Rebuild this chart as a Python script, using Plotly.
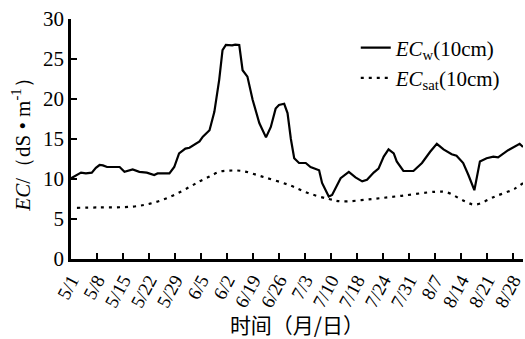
import plotly.graph_objects as go

# Days counted from 5/1
days_w = [0, 1.9, 2.7, 4.0, 5.6, 6.7, 7.7, 8.6, 9.7, 11.3, 13.1, 14.4, 15.5, 16.6, 18.4,
          20.4, 22.4, 23.3, 26.5, 27.8, 29.1, 30.8, 31.9, 33.2, 34.6, 35.5, 37.3, 38.6,
          39.9, 40.8, 41.7, 43.4, 44.2, 45.3, 46.2, 47.5, 48.9, 50.7, 52.5, 53.8, 55.1,
          56.0, 57.4, 58.3, 59.2, 60.1, 61.4, 63.2, 64.5, 66.8, 67.6, 69.4, 70.3, 72.6,
          74.8, 76.6, 78.4, 79.7, 81.5, 82.8, 84.2, 85.5, 86.9, 87.7, 89.5, 92.2, 94.5,
          96.7, 98.5, 100.3, 102.5, 103.8, 105.6, 107.0, 108.6, 110.1, 111.9, 113.7,
          115.0, 117.7, 120.8, 121.7]
ec_w = [10.1, 10.6, 10.8, 10.7, 10.8, 11.4, 11.75, 11.7, 11.5, 11.5, 11.5, 10.9, 11.1,
        11.2, 10.9, 10.8, 10.5, 10.7, 10.7, 11.5, 13.2, 13.8, 13.9, 14.3, 14.7, 15.3,
        16.1, 18.4, 22.4, 26.1, 26.75, 26.7, 26.8, 26.75, 23.6, 22.8, 19.9, 17.0, 15.2,
        16.5, 18.8, 19.25, 19.4, 18.25, 15.0, 12.6, 12.0, 12.0, 11.5, 11.1, 9.5, 7.8,
        8.0, 10.1, 10.9, 10.2, 9.7, 9.9, 10.8, 11.3, 12.8, 13.7, 13.2, 12.2, 11.0, 11.0,
        12.0, 13.4, 14.4, 13.7, 13.1, 12.9, 12.0, 10.5, 8.6, 12.2, 12.6, 12.8, 12.7,
        13.6, 14.4, 14.0]

days_sat = [1.6, 7.8, 16.6, 22.0, 27.3, 31.9, 34.6, 37.3, 39.9, 42.6, 46.1, 51.5, 58.7,
            64.1, 69.4, 72.9, 81.0, 89.0, 98.0, 101.1, 106.1, 108.8, 114.1, 119.5, 121.7]
ec_sat = [6.4, 6.45, 6.55, 7.0, 7.9, 9.0, 9.7, 10.3, 10.9, 11.05, 11.0, 10.3, 9.25,
          8.2, 7.5, 7.2, 7.5, 7.9, 8.4, 8.35, 7.2, 6.8, 7.8, 8.8, 9.5]

tick_days = [0, 7, 14, 21, 28, 35, 42, 49, 56, 63, 70, 77, 84, 91, 98, 105, 112, 119]
tick_labels = ["5/1", "5/8", "5/15", "5/22", "5/29", "6/5", "6/2", "6/19", "6/26",
               "7/3", "7/10", "7/18", "7/24", "7/31", "8/7", "8/14", "8/21", "8/28"]
y_ticks = [0, 5, 10, 15, 20, 25, 30]

serif = "Liberation Serif, Times New Roman, serif"
cjk = "Noto Sans CJK SC, sans-serif"

fig = go.Figure()
fig.add_trace(go.Scatter(
    x=days_w, y=ec_w, mode="lines",
    name="<i>EC</i><sub>w</sub>(10cm)",
    line=dict(color="black", width=2.2),
))
fig.add_trace(go.Scatter(
    x=days_sat, y=ec_sat, mode="lines", line_shape="spline",
    name="<i>EC</i><sub>sat</sub>(10cm)",
    line=dict(color="black", width=2.2, dash="3px,5px"),
))

fig.update_layout(
    width=525, height=339,
    margin=dict(l=71, r=0, t=19, b=80),
    paper_bgcolor="white", plot_bgcolor="white",
    font=dict(family=serif, color="black", size=16),
    showlegend=True,
    legend=dict(
        x=0.63, y=0.965, xanchor="left", yanchor="top",
        bgcolor="rgba(0,0,0,0)", font=dict(family=serif, size=21, color="black"),
        tracegroupgap=0,
    ),
)

fig.update_xaxes(
    range=[0, 121.7],
    tickmode="array", tickvals=tick_days, ticktext=tick_labels,
    tickangle=-62, ticks="inside", ticklen=6, tickwidth=2, tickcolor="black",
    ticklabeloverflow="allow",
    showline=True, linecolor="black", linewidth=2.5,
    showgrid=False, zeroline=False,
    tickfont=dict(family=serif, size=19),
    title=dict(text="时间（月/日）", font=dict(family=cjk, size=21), standoff=5),
)
fig.update_yaxes(
    range=[0, 30],
    tickmode="array", tickvals=y_ticks,
    ticks="inside", ticklen=6, tickwidth=2, tickcolor="black",
    showline=True, linecolor="black", linewidth=2.5,
    showgrid=False, zeroline=False,
    tickfont=dict(family=serif, size=21),
    title=dict(text="<i>EC</i>/（dS • m<sup>-1</sup>）",
               font=dict(family=serif, size=21), standoff=7),
)

fig.write_html("out.html")
